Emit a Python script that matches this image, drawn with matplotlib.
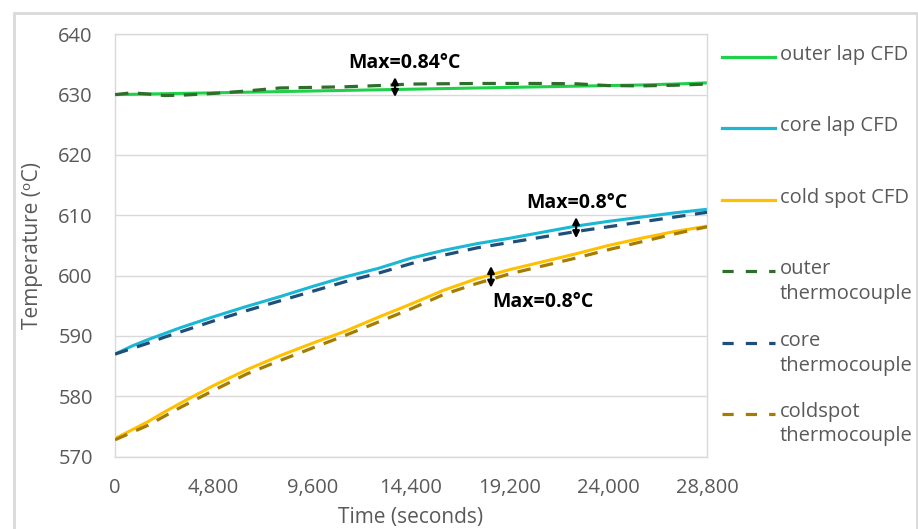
import matplotlib
matplotlib.use('Agg')
import matplotlib.pyplot as plt
from matplotlib.lines import Line2D
from matplotlib.patches import Rectangle

plt.rcParams['font.family'] = ['Open Sans', 'DejaVu Sans']

# time axis (seconds)
time_s = [0, 800, 1600, 2400, 3200, 4800, 6400, 8000, 9600, 11200, 12800,
          14400, 16000, 17600, 19200, 20800, 22400, 24000, 25600, 27200, 28800]

outer_cfd = [630.0, 630.05, 630.1, 630.15, 630.2, 630.3, 630.4, 630.5, 630.6, 630.7, 630.8,
             630.9, 631.0, 631.1, 631.2, 631.3, 631.4, 631.5, 631.6, 631.75, 631.95]
outer_tc = [630.0, 630.3, 630.1, 629.85, 629.9, 630.2, 630.6, 631.1, 631.2, 631.3, 631.5,
            631.75, 631.8, 631.85, 631.85, 631.85, 631.8, 631.5, 631.45, 631.55, 631.75]

core_cfd = [587.0, 588.3, 589.4, 590.4, 591.4, 593.2, 594.9, 596.5, 598.2, 599.8, 601.2,
            602.9, 604.2, 605.3, 606.2, 607.2, 608.2, 609.0, 609.7, 610.4, 611.0]
core_tc = [587.0, 587.9, 588.8, 589.8, 590.7, 592.5, 594.2, 595.8, 597.4, 599.0, 600.4,
           602.0, 603.4, 604.6, 605.5, 606.4, 607.3, 608.1, 608.9, 609.7, 610.5]

cold_cfd = [573.0, 574.4, 575.8, 577.4, 578.9, 581.8, 584.4, 586.7, 588.8, 590.8, 593.1,
            595.3, 597.6, 599.5, 601.0, 602.3, 603.6, 605.0, 606.2, 607.3, 608.2]
cold_tc = [572.8, 574.0, 575.2, 576.7, 578.2, 581.0, 583.7, 585.9, 588.0, 590.1, 592.3,
           594.5, 596.9, 598.7, 600.3, 601.6, 602.9, 604.3, 605.6, 606.9, 608.1]

x_ticks = [0, 4800, 9600, 14400, 19200, 24000, 28800]
x_tick_labels = ['0', '4,800', '9,600', '14,400', '19,200', '24,000', '28,800']
y_ticks = [570, 580, 590, 600, 610, 620, 630, 640]

series = [
    ('outer lap CFD', outer_cfd, '#1fd14a', '-'),
    ('core lap CFD', core_cfd, '#1ab8d4', '-'),
    ('cold spot CFD', cold_cfd, '#ffc000', '-'),
    ('outer\nthermocouple', outer_tc, '#2f6e2a', '--'),
    ('core\nthermocouple', core_tc, '#1f4e79', '--'),
    ('coldspot\nthermocouple', cold_tc, '#a67c00', '--'),
]

# (text, text x, text y, arrow x, arrow y0, arrow y1)
notes = [
    ('Max=0.84\u00b0C', 14100, 635.2, 13620, 632.9, 629.6),
    ('Max=0.8\u00b0C', 22480, 612.1, 22430, 609.7, 606.2),
    ('Max=0.8\u00b0C', 20820, 595.6, 18290, 601.6, 598.0),
]

grey = '#595959'
light = '#d9d9d9'

fig = plt.figure(figsize=(9.18, 5.29), dpi=100)
ax = fig.add_axes([0.1253, 0.1367, 0.6449, 0.7985])

# draw CFD lines on top of thermocouple lines
for label, vals, color, ls in series[3:] + series[:3]:
    if ls == '--':
        ax.plot(time_s, vals, color=color, lw=2.3, dashes=(4.2, 3.0), zorder=3)
    else:
        ax.plot(time_s, vals, color=color, lw=2.2, zorder=2)

ax.set_xlim(0, 28800)
ax.set_ylim(570, 640)
ax.set_xticks(x_ticks)
ax.set_xticklabels(x_tick_labels)
ax.set_yticks(y_ticks)
ax.tick_params(length=0, labelsize=14.5, colors=grey)
ax.tick_params(axis='y', pad=16)
ax.tick_params(axis='x', pad=15)
ax.grid(True, axis='y', color=light, lw=1)
ax.set_axisbelow(True)
for sp in ax.spines.values():
    sp.set_color(light)
    sp.set_linewidth(1)

ax.set_xlabel('Time (seconds)', fontsize=15, color=grey, labelpad=7)
ax.set_ylabel('Temperature (\u1d52C)', fontsize=15, color=grey)
ax.yaxis.set_label_coords(-0.121, 0.5)

for text, tx, ty, axx, ay0, ay1 in notes:
    ax.text(tx, ty, text, fontsize=14, fontweight='bold', color='black',
            ha='center', va='center', zorder=5)
    ax.annotate('', xy=(axx, ay1), xytext=(axx, ay0),
                arrowprops=dict(arrowstyle='<|-|>', color='black', lw=1.6,
                                mutation_scale=10, shrinkA=0, shrinkB=0), zorder=5)

# legend, one slot per series
W, H = 918.0, 529.0
slot_y = [57, 128, 200, 271, 343, 414]
for (label, vals, color, ls), py in zip(series, slot_y):
    yf = 1 - py / H
    ln = Line2D([722 / W, 775 / W], [yf, yf], transform=fig.transFigure,
                color=color, lw=2.3)
    if ls == '--':
        ln.set_dashes((3.5, 3.8))
    fig.add_artist(ln)
    fig.text(780 / W, yf + 12 / H, label, fontsize=14.5, color=grey,
             ha='left', va='top', linespacing=1.3)

# outer chart border
fig.add_artist(Rectangle((14 / W, -0.05), 903 / W, 1.05 - 13 / H,
                         transform=fig.transFigure, fill=False,
                         edgecolor=light, lw=2))

fig.savefig('out.png', dpi=100)
